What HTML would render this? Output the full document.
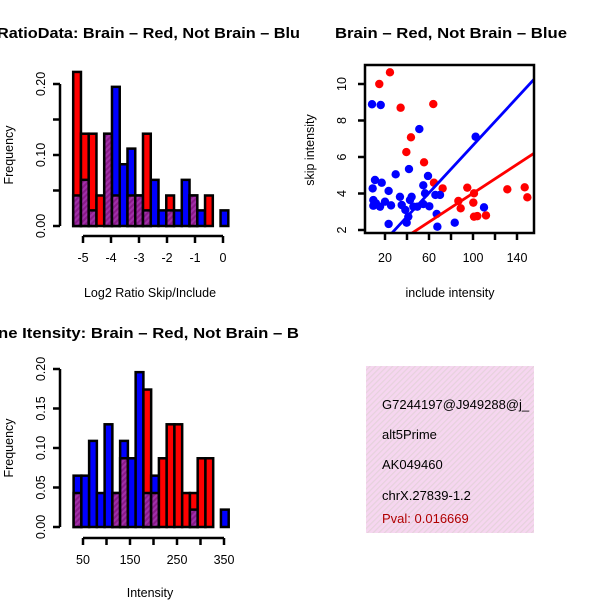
<!DOCTYPE html>
<html><head><meta charset="utf-8"><style>
html,body{margin:0;padding:0;background:#fff}
svg{display:block;font-family:"Liberation Sans",sans-serif}
</style></head><body>
<svg id="c" width="600" height="600" viewBox="0 0 600 600">
<defs>
<pattern id="hatch" width="4" height="4" patternUnits="userSpaceOnUse" patternTransform="rotate(45)">
<rect width="4" height="4" fill="#8a1a8a"/><rect width="2" height="4" fill="#a030a8"/>
</pattern>
<pattern id="pinkhatch" width="4" height="4" patternUnits="userSpaceOnUse" patternTransform="rotate(45)">
<rect width="4" height="4" fill="#f6d6f0"/><rect width="1.2" height="4" fill="#e6d2dc"/>
</pattern>
<clipPath id="scclip"><rect x="365" y="65" width="169" height="168"/></clipPath>
<clipPath id="ibclip"><rect x="366" y="366" width="168" height="167"/></clipPath>
</defs>
<g id="g"></g>
</svg>
<script>
// ---- Top histogram: log2 ratio ----
const ratioBinStart = -5.35;
const ratioBinWidth = 0.277;
const ratioRed  = [0.217,0.130,0.130,0.043,0.130,0.043,0,0.043,0.043,0.130,0,0,0.043,0,0,0.043,0,0.043,0,0];
const ratioBlue = [0.043,0.065,0.022,0,0.130,0.196,0.087,0.109,0.043,0.022,0.065,0.022,0.022,0.022,0.065,0.043,0.022,0,0,0.022];
const ratioXTicks = [-5,-4,-3,-2,-1,0];
const ratioYTicks = [0,0.05,0.10,0.15,0.20];
const ratioYLabels = ["0.00","","0.10","","0.20"];
// ---- Bottom histogram: intensity ----
const intBinStart = 30;
const intBinWidth = 16.5;
const intRed  = [0.043,0,0,0,0,0.043,0.087,0,0,0.174,0.043,0.087,0.130,0.130,0.043,0.043,0.087,0.087,0,0];
const intBlue = [0.065,0.065,0.109,0.043,0.130,0.043,0.109,0.087,0.196,0.043,0.065,0,0,0,0,0.022,0,0,0,0.022];
const intXTicks = [50,100,150,200,250,300,350];
const intXLabels = ["50","","150","","250","","350"];
const intYTicks = [0,0.05,0.10,0.15,0.20];
const intYLabels = ["0.00","0.05","0.10","0.15","0.20"];
// ---- Scatter ----
const redX = [14.8,24.5,34.2,63.9,43.6,39.4,55.5,64.5,72.4,94.8,100.9,86.7,88.8,100.3,100.9,103.9,111.8,131.2,147,149.4];
const redY = [10.0,10.64,8.7,8.9,7.08,6.27,5.71,4.59,4.28,4.32,4.01,3.59,3.19,3.5,2.73,2.76,2.8,4.23,4.34,3.79];
const blueX = [8.2,16.1,51.2,102.4,41.8,29.7,59.1,10.9,17,8.8,23.3,54.8,9.4,11.8,15.5,20,25.5,33.6,35.2,42.7,44.2,38.5,41.2,45.8,49.4,54.8,60.3,56.4,65.8,70,67,67.6,39.7,23.3,83.4,110,9.4];
const blueY = [8.89,8.85,7.53,7.11,5.34,5.05,4.96,4.74,4.59,4.28,4.14,4.45,3.64,3.46,3.28,3.55,3.35,3.82,3.37,3.64,3.82,3.1,2.73,3.28,3.28,3.42,3.3,4.01,3.92,3.92,2.88,2.18,2.4,2.33,2.4,3.24,3.33];
const fitBlue = [0.12,0.0652];
const fitRed = [0.075,0.0394];
const scXTicks = [20,40,60,80,100,120,140];
const scXLabels = ["20","","60","","100","","140"];
const scYTicks = [2,4,6,8,10];

const NS="http://www.w3.org/2000/svg";
const G=document.getElementById('g');
function el(tag,attrs,parent){const e=document.createElementNS(NS,tag);for(const k in attrs)e.setAttribute(k,attrs[k]);(parent||G).appendChild(e);return e;}
function txt(s,x,y,attrs,parent){const t=el('text',Object.assign({x:x,y:y},attrs||{}),parent);t.textContent=s;return t;}

let t;
t=txt("RatioData: Brain – Red, Not Brain – Blu",-3,38,{"font-size":"14.5","font-weight":"bold",textLength:"303",lengthAdjust:"spacingAndGlyphs"});


t=txt("Brain – Red, Not Brain – Blue",335,38,{"font-size":"14.5","font-weight":"bold",textLength:"232",lengthAdjust:"spacingAndGlyphs"});


t=txt("ne Itensity: Brain – Red, Not Brain – B",-2,338,{"font-size":"14.5","font-weight":"bold",textLength:"301",lengthAdjust:"spacingAndGlyphs"});



function hist(name,red,blue,x0,bw,xs,ys,xTicks,xLabels,yTicks,yLabels,xAxisY,yAxisX,xlabel,xlabelY){
  const g=el('g',{});
  
  
  for(let i=0;i<red.length;i++){
    const a=x0+i*bw, b=a+bw, r=red[i], bl=blue[i];
    if(r===0&&bl===0) continue;
    const top=Math.max(r,bl), mn=Math.min(r,bl);
    const px=xs(a), pw=xs(b)-xs(a);
    const outer=el('rect',{x:px,y:ys(top),width:pw,height:ys(0)-ys(top),fill:r>=bl?'#ff0000':'#0000ff',stroke:'#000','stroke-width':2.5},g);
    
    
    if(mn>0){
      const inner=el('rect',{x:px,y:ys(mn),width:pw,height:ys(0)-ys(mn),fill:'url(#hatch)',stroke:'#000','stroke-width':2.5},g);
      
      
    }
  }
  const ya=el('g',{});
  
  
  el('line',{x1:yAxisX,x2:yAxisX,y1:ys(yTicks[0]),y2:ys(yTicks[yTicks.length-1]),stroke:'#000','stroke-width':2.5},ya);
  yTicks.forEach((v,i)=>{
    el('line',{x1:yAxisX-7,x2:yAxisX,y1:ys(v),y2:ys(v),stroke:'#000','stroke-width':2.5},ya);
    if(yLabels[i]) txt(yLabels[i],0,0,{"font-size":"12.5","text-anchor":"middle",transform:`translate(${yAxisX-15},${ys(v)}) rotate(-90)`},ya);
  });
  const xa=el('g',{});
  
  
  el('line',{x1:xs(xTicks[0]),x2:xs(xTicks[xTicks.length-1]),y1:xAxisY,y2:xAxisY,stroke:'#000','stroke-width':2.5},xa);
  xTicks.forEach((v,i)=>{
    el('line',{x1:xs(v),x2:xs(v),y1:xAxisY,y2:xAxisY+7,stroke:'#000','stroke-width':2.5},xa);
    if(xLabels[i]) txt(xLabels[i],xs(v),xAxisY+26,{"font-size":"12.5","text-anchor":"middle"},xa);
  });
  const xl=txt(xlabel,150,xlabelY,{"font-size":"12.5","text-anchor":"middle"});
  
  
  const yc=(ys(yTicks[0])+ys(yTicks[yTicks.length-1]))/2;
  const yl=txt("Frequency",0,0,{"font-size":"12.5","text-anchor":"middle",transform:`translate(13,${yc}) rotate(-90)`});
  
  
}
const rxs=v=>83+(v+5)*28;
const rys=v=>226-v*710;
hist('ratio-histogram',ratioRed,ratioBlue,ratioBinStart,ratioBinWidth,rxs,rys,ratioXTicks,ratioXTicks.map(String),ratioYTicks,ratioYLabels,236,60,"Log2 Ratio Skip/Include",297);
const ixs=v=>83+(v-50)*0.47;
const iys=v=>527-v*790;
hist('intensity-histogram',intRed,intBlue,intBinStart,intBinWidth,ixs,iys,intXTicks,intXLabels,intYTicks,intYLabels,538,60,"Intensity",597);

// scatter
const sxs=v=>363+v*1.1;
const sys=v=>84+(10-v)*18.25;
const sc=el('g',{});


const pts=el('g',{'clip-path':'url(#scclip)'},sc);
redX.forEach((x,i)=>{const c=el('circle',{cx:sxs(x),cy:sys(redY[i]),r:4.2,fill:'#ff0000'},pts);

});
blueX.forEach((x,i)=>{const c=el('circle',{cx:sxs(x),cy:sys(blueY[i]),r:4.2,fill:'#0000ff'},pts);

});
[[fitBlue,'#0000ff','fit-line-blue'],[fitRed,'#ff0000','fit-line-red']].forEach(([f,col,nm])=>{
  const l=el('line',{x1:sxs(0),y1:sys(f[0]),x2:sxs(170),y2:sys(f[0]+f[1]*170),stroke:col,'stroke-width':2.8},pts);
  
  
});
const box=el('rect',{x:365,y:65,width:169,height:168,fill:'none',stroke:'#000','stroke-width':2.5},sc);


scXTicks.forEach((v,i)=>{el('line',{x1:sxs(v),x2:sxs(v),y1:233,y2:240,stroke:'#000','stroke-width':2.5},sc);
  if(scXLabels[i]) txt(scXLabels[i],sxs(v),262,{"font-size":"12.5","text-anchor":"middle"},sc);});
scYTicks.forEach(v=>{el('line',{x1:358,x2:365,y1:sys(v),y2:sys(v),stroke:'#000','stroke-width':2.5},sc);
  txt(String(v),0,0,{"font-size":"12.5","text-anchor":"middle",transform:`translate(346,${sys(v)}) rotate(-90)`},sc);});
t=txt("include intensity",450,297,{"font-size":"12.5","text-anchor":"middle"});


t=txt("skip intensity",0,0,{"font-size":"12.5","text-anchor":"middle",transform:"translate(314,150) rotate(-90)"});



// info panel
const ib=el('g',{});


el('rect',{x:366,y:366,width:168,height:167,fill:'url(#pinkhatch)'},ib);
const lines=[["G7244197@J949288@j_",409,'#000'],["alt5Prime",439,'#000'],["AK049460",469,'#000'],["chrX.27839-1.2",500,'#000'],["Pval: 0.016669",523,'#b00000']];
const tg=el('g',{'clip-path':'url(#ibclip)'},ib);
lines.forEach(([s,y,c])=>{const tt=txt(s,382,y,{"font-size":"13",fill:c},tg);

});
</script>
</body></html>
